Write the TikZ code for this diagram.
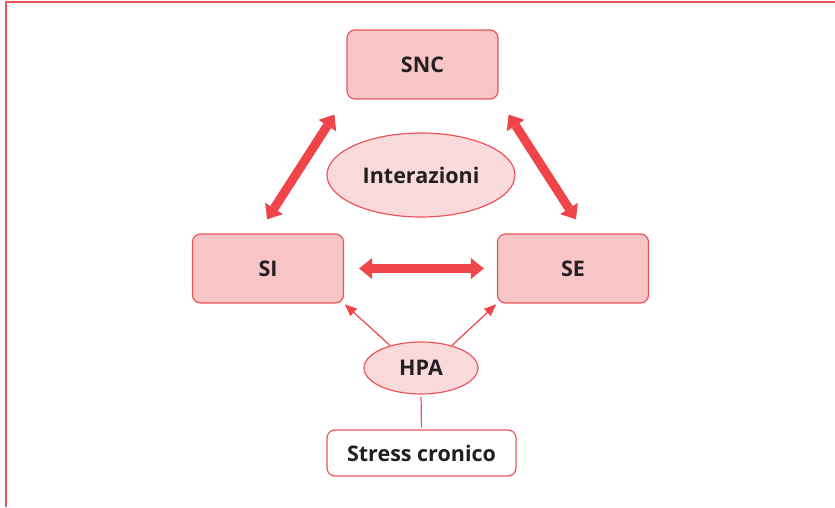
\documentclass[tikz,border=0pt]{standalone}
\usepackage{fontspec}
\setmainfont{Open Sans}
\usetikzlibrary{arrows.meta,shapes.geometric,calc}
\definecolor{rosa}{RGB}{247,197,197}
\definecolor{rosachiaro}{RGB}{249,218,219}
\definecolor{bordo}{RGB}{236,85,92}
\definecolor{freccia}{RGB}{238,68,74}
\definecolor{testo}{RGB}{35,31,32}
\begin{document}
\begin{tikzpicture}[x=1pt,y=1pt,
  etichetta/.style={text=testo, font=\fontsize{21.5}{26}\selectfont\bfseries, inner sep=0pt},
  box/.style={etichetta, draw=bordo, line width=1.2pt, fill=rosa, rounded corners=8pt,
    minimum width=151pt, minimum height=69pt},
  boxbianco/.style={etichetta, draw=bordo, line width=1.2pt, fill=white, rounded corners=8pt,
    minimum width=189pt, minimum height=46pt},
  ovale/.style={etichetta, ellipse, draw=bordo, line width=1.2pt, fill=rosachiaro},
  grossa/.style={draw=freccia, line width=9pt,
    {Triangle[width=21pt,length=13pt,line width=0pt]}-{Triangle[width=21pt,length=13pt,line width=0pt]}},
  sottile/.style={draw=freccia, line width=1.2pt, -{Triangle[width=10pt,length=12pt,line width=0pt]}},
  cornice/.style={draw=bordo, line width=1.5pt}]
  \useasboundingbox (0,0) rectangle (835,507);

  % cornice superiore e sinistra
  \draw[cornice] (6,0) -- (6,505) -- (835,505);

  % sistemi
  \node[box] (SNC) at (422.5,442.5) {SNC};
  \node[box] (SI) at (268,238.5) {SI};
  \node[box] (SE) at (573,238.5) {SE};
  \node[ovale, minimum width=188pt, minimum height=84pt] (INT) at (421,332) {Interazioni};
  \node[ovale, minimum width=114pt, minimum height=52pt] (HPA) at (421,139) {HPA};
  \node[boxbianco] (STR) at (421.5,54) {Stress cronico};

  % interazioni bidirezionali
  \draw[grossa] ($(SI.north)+(-1,14)$) -- ($(SNC.south west)+(-12,-15)$);
  \draw[grossa] ($(SE.north)+(3,14)$) -- ($(SNC.south east)+(10,-15)$);
  \draw[grossa] ($(SI.east)+(15,0)$) -- ($(SE.west)+(-13,0)$);

  % asse HPA
  \draw[sottile, shorten >=1pt] (HPA.144) -- (SI.south east);
  \draw[sottile, shorten >=1pt] (HPA.36) -- (SE.south west);
  \draw[draw=bordo, line width=1.2pt, shorten <=2pt, shorten >=2pt] (HPA.south) -- (STR.north);
\end{tikzpicture}
\end{document}
